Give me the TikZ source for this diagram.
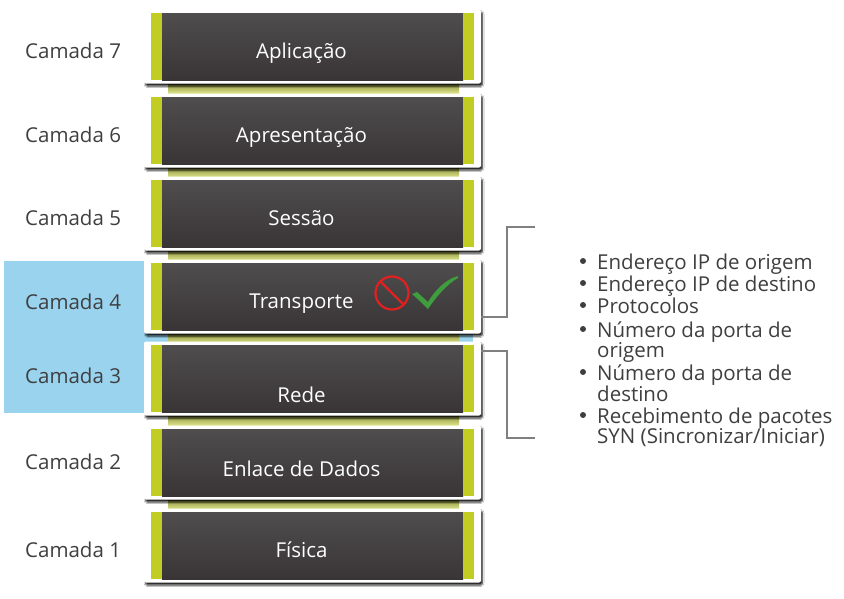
\documentclass[tikz,border=0pt]{standalone}
\usepackage{fontspec}
\setmainfont{Open Sans}
\usetikzlibrary{shadows.blur,calc}
\definecolor{lime}{HTML}{C1CD23}
\definecolor{stripa}{HTML}{8F9640}
\definecolor{stripb}{HTML}{DDE38A}
\definecolor{sky}{HTML}{99D3EE}
\definecolor{ink}{HTML}{3F3F41}
\definecolor{darka}{HTML}{4F4D4E}
\definecolor{darkb}{HTML}{393536}
\definecolor{bracket}{HTML}{808080}
\definecolor{nored}{HTML}{E1201F}
\definecolor{okgreen}{HTML}{3F9D3D}
\tikzset{
  x=1pt,y=-1pt,
  layerframe/.style={fill=white,rounded corners=2pt,blur shadow={shadow xshift=1.5pt,shadow yshift=-2.5pt,shadow blur steps=6,shadow blur radius=1.5pt,shadow opacity=85}},
  layerface/.style={top color=darka,bottom color=darkb,draw=none},
  side/.style={fill=lime,draw=none},
  joint/.style={top color=stripa,bottom color=stripb,draw=none},
  layertext/.style={text=white,font=\fontsize{20.5pt}{24pt}\selectfont,anchor=center,inner sep=0pt},
  camada/.style={text=ink,font=\fontsize{20.5pt}{24pt}\selectfont,anchor=west,inner sep=0pt},
  item/.style={text=ink,font=\fontsize{20.5pt}{20pt}\selectfont,anchor=north west,inner sep=0pt,align=left},
  brk/.style={draw=bracket,line width=2.8pt,line join=miter},
}
\newcommand{\layerbox}[3]{% name, top, bottom of inner face
  \path[layerframe] (144,#2-3.5) rectangle (481,#3+3.5);
  \path[layerface] (162,#2) rectangle (463,#3);
  \path[side] (151,#2) rectangle (162,#3);
  \path[side] (463,#2) rectangle (474,#3);
  \coordinate (#1) at (481,{(#2+#3)/2});
}
\begin{document}
\begin{tikzpicture}
\useasboundingbox (0,0) rectangle (844,598);
\fill[white] (0,0) rectangle (844,598);
% blue highlight
\fill[sky] (4,261) rectangle (168,413);
\fill[sky] (168,261) rectangle (473,345);
% joints
\foreach \t in {84,168,251,334,416,500}{
  \path[joint] (168,\t) rectangle (459,\t+9);
}
% boxes
\layerbox{l7}{13}{80}
\layerbox{l6}{97}{164}
\layerbox{l5}{180}{247}
\layerbox{l4}{263}{330}
\layerbox{l3}{345}{412}
\layerbox{l2}{429}{496}
\layerbox{l1}{512}{579}
% layer names
\node[layertext] (t7) at (301.5,53) {Aplicação};
\node[layertext] (t6) at (301.5,137) {Apresentação};
\node[layertext] (t5) at (301.5,218) {Sessão};
\node[layertext] (t4) at (301.5,304) {Transporte};
\node[layertext] (t3) at (301.5,395) {Rede};
\node[layertext] (t2) at (301.5,469) {Enlace de Dados};
\node[layertext] (t1) at (301.5,550) {Física};
% labels
\node[camada] (c7) at (25,50.5) {Camada 7};
\node[camada] (c6) at (25,134.5) {Camada 6};
\node[camada] (c5) at (25,217.5) {Camada 5};
\node[camada] (c4) at (25,301.5) {Camada 4};
\node[camada] (c3) at (25,375.5) {Camada 3};
\node[camada] (c2) at (25,461.5) {Camada 2};
\node[camada] (c1) at (25,549.5) {Camada 1};
% icons
\draw[nored,line width=2.2pt] (392,293) circle (16.5);
\draw[nored,line width=2.4pt] (380,281) -- (403,304);
\fill[okgreen] (412,294) -- (417,292) -- (428,302) .. controls (433,293) and (445,279) .. (458,276) -- (458,278) .. controls (447,284) and (436,297) .. (428,309) -- (422,303) -- cycle;
% brackets
\coordinate (b1a) at (481,317);
\coordinate (b1b) at (535,227);
\coordinate (b2a) at (481,351);
\coordinate (b2b) at (535,438);
\draw[brk] (b1a) -- (507,317) -- (507,227) -- (b1b);
\draw[brk] (b2a) -- (507,351) -- (507,438) -- (b2b);
% list
\foreach \y in {261,283,305,329,372,415}{\fill[ink] (583,\y) circle (3);}
\node[item] (i1) at (597,253.5) {Endereço IP de origem};
\node[item] (i2) at (597,275.5) {Endereço IP de destino};
\node[item] (i3) at (597,297.5) {Protocolos};
\node[item] (i4) at (597,321.5) {Número da porta de\\origem};
\node[item] (i5) at (597,364.5) {Número da porta de\\destino};
\node[item] (i6) at (597,407.5) {Recebimento de pacotes\\SYN (Sincronizar/Iniciar)};
\end{tikzpicture}
\end{document}
